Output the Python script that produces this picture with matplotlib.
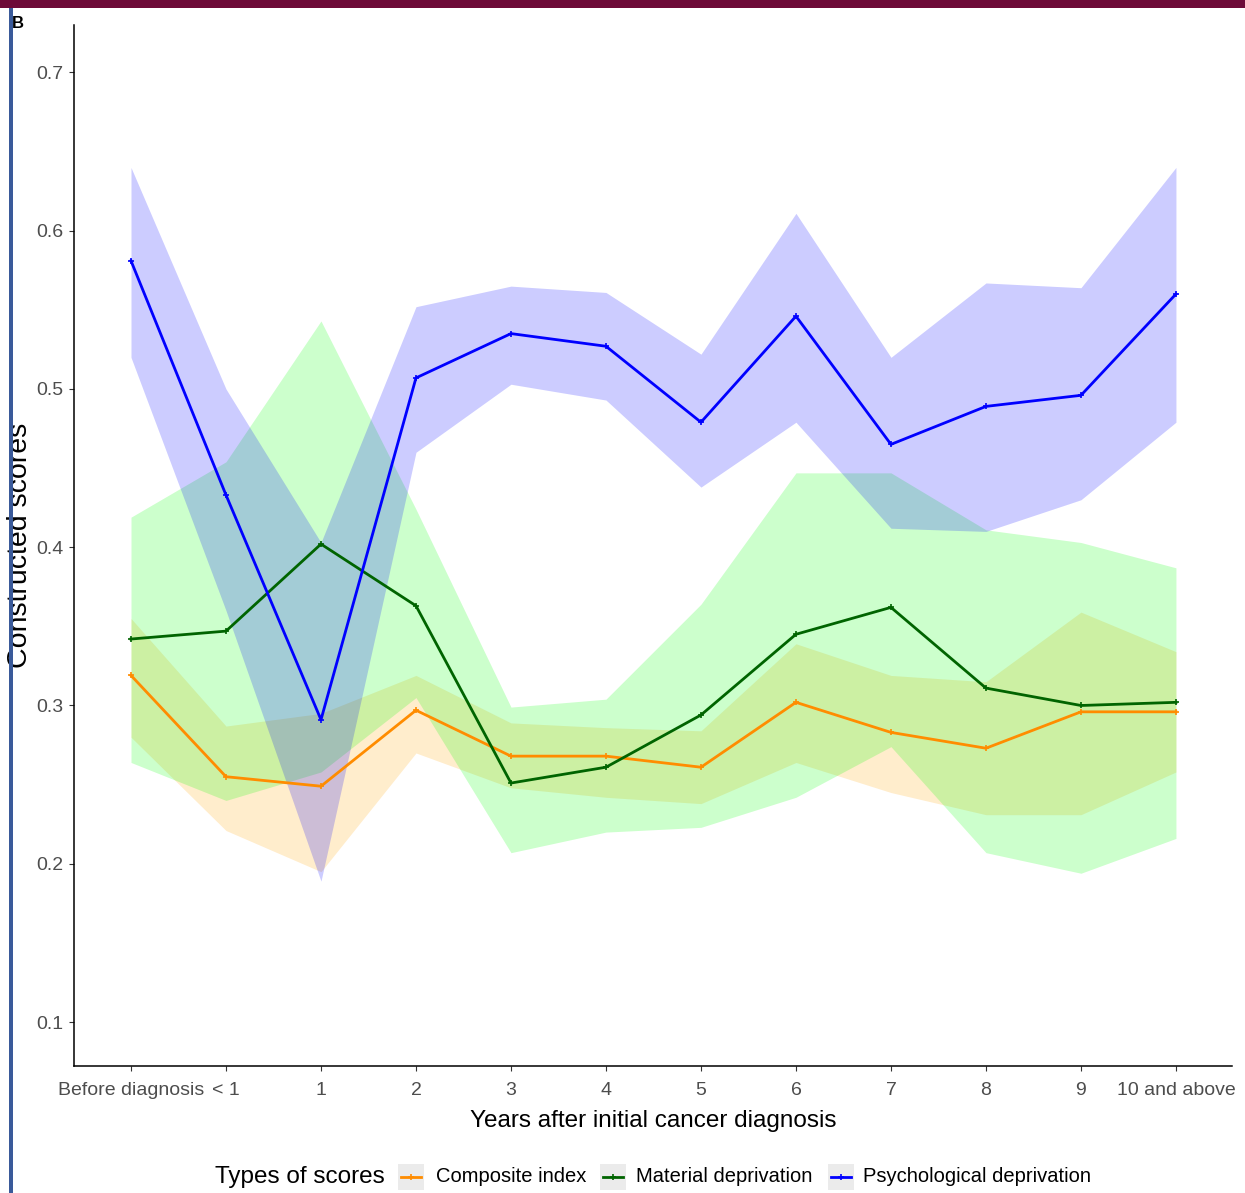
import matplotlib
matplotlib.use("Agg")
import matplotlib.pyplot as plt
from matplotlib.patches import Rectangle
from matplotlib.lines import Line2D

plt.rcParams["font.family"] = ["Liberation Sans", "DejaVu Sans"]

# ---- data ------------------------------------------------------------------
years = ["Before diagnosis", "< 1", "1", "2", "3", "4", "5", "6", "7", "8",
         "9", "10 and above"]

composite = [0.319, 0.255, 0.249, 0.297, 0.268, 0.268, 0.261, 0.302, 0.283,
             0.273, 0.296, 0.296]
composite_lo = [0.280, 0.221, 0.195, 0.270, 0.248, 0.242, 0.238, 0.264, 0.245,
                0.231, 0.231, 0.258]
composite_hi = [0.355, 0.287, 0.295, 0.319, 0.289, 0.286, 0.284, 0.339, 0.319,
                0.315, 0.359, 0.334]

material = [0.342, 0.347, 0.402, 0.363, 0.251, 0.261, 0.294, 0.345, 0.362,
            0.311, 0.300, 0.302]
material_lo = [0.264, 0.240, 0.258, 0.305, 0.207, 0.220, 0.223, 0.242, 0.274,
               0.207, 0.194, 0.216]
material_hi = [0.419, 0.454, 0.543, 0.424, 0.299, 0.304, 0.364, 0.447, 0.447,
               0.411, 0.403, 0.387]

psych = [0.581, 0.433, 0.291, 0.507, 0.535, 0.527, 0.479, 0.546, 0.465,
         0.489, 0.496, 0.560]
psych_lo = [0.520, 0.360, 0.189, 0.460, 0.503, 0.493, 0.438, 0.479, 0.412,
            0.410, 0.430, 0.479]
psych_hi = [0.640, 0.500, 0.403, 0.552, 0.565, 0.561, 0.522, 0.611, 0.520,
            0.567, 0.564, 0.640]

series = [
    ("Composite index", composite, composite_lo, composite_hi, "#ff8c00", "#ffa500"),
    ("Material deprivation", material, material_lo, material_hi, "#006400", "#00ff00"),
    ("Psychological deprivation", psych, psych_lo, psych_hi, "#0000ff", "#0000ff"),
]

W, H = 1245, 1193
fig = plt.figure(figsize=(W / 100, H / 100), dpi=100)


def fx(px):
    return px / W


def fy(py):
    return 1 - py / H


ax = fig.add_axes([fx(74), fy(1066), fx(1232) - fx(74), fy(25) - fy(1066)])
x = list(range(len(years)))

for name, mid, lo, hi, lc, fc in series:
    ax.fill_between(x, lo, hi, color=fc, alpha=0.2, lw=0, zorder=1)
for name, mid, lo, hi, lc, fc in series:
    ax.plot(x, mid, color=lc, lw=2.0, marker="+", ms=4, mew=1.2, zorder=3)

ax.set_xlim(-0.6, 11.59)
ax.set_ylim(0.0722, 0.730)
ax.set_xticks(x)
ax.set_xticklabels(years)
ax.set_yticks([0.1, 0.2, 0.3, 0.4, 0.5, 0.6, 0.7])
ax.set_yticklabels(["0.1", "0.2", "0.3", "0.4", "0.5", "0.6", "0.7"])
ax.tick_params(axis="both", length=3.5, width=0.8, color="#333333",
               labelcolor="#4d4d4d", labelsize=14)
ax.tick_params(axis="x", pad=8)
ax.tick_params(axis="y", pad=4)
for s in ["top", "right"]:
    ax.spines[s].set_visible(False)
for s in ["left", "bottom"]:
    ax.spines[s].set_linewidth(1.1)
    ax.spines[s].set_color("black")

ax.set_xlabel("Years after initial cancer diagnosis", fontsize=17.5, labelpad=8)
ax.set_ylabel("Constructed scores", fontsize=20.5)
ax.yaxis.set_label_coords((33 - 74) / 1158, 0.5)

# ---- legend (manual, ggplot style row) --------------------------------------
ly = 1177
fig.text(fx(215), fy(ly), "Types of scores", fontsize=17.5, ha="left", va="center")
keys = [(398, 436), (600, 636), (828, 863)]
for (kx, tx), (name, mid, lo, hi, lc, fc) in zip(keys, series):
    fig.add_artist(Rectangle((fx(kx), fy(ly + 13)), fx(26), 26 / H,
                             transform=fig.transFigure, fc="#ebebeb", ec="none"))
    fig.add_artist(Line2D([fx(kx + 3), fx(kx + 23)], [fy(ly), fy(ly)],
                          transform=fig.transFigure, color=lc, lw=2.0))
    fig.add_artist(Line2D([fx(kx + 13)], [fy(ly)], transform=fig.transFigure,
                          color=lc, marker="+", ms=5, mew=1.2))
    fig.text(fx(tx), fy(ly), name, fontsize=14.5, ha="left", va="center")

# ---- slide frame bits -------------------------------------------------------
fig.add_artist(Rectangle((0, fy(8)), 1, 8 / H, transform=fig.transFigure,
                         fc="#6d0a38", ec="none"))
fig.add_artist(Rectangle((fx(9), 0), fx(4), fy(8), transform=fig.transFigure,
                         fc="#3a5a9a", ec="none"))
fig.text(fx(12), fy(24), "B", fontsize=12, fontweight="bold", ha="left", va="center")

fig.savefig("out.png", dpi=100, facecolor="white")
